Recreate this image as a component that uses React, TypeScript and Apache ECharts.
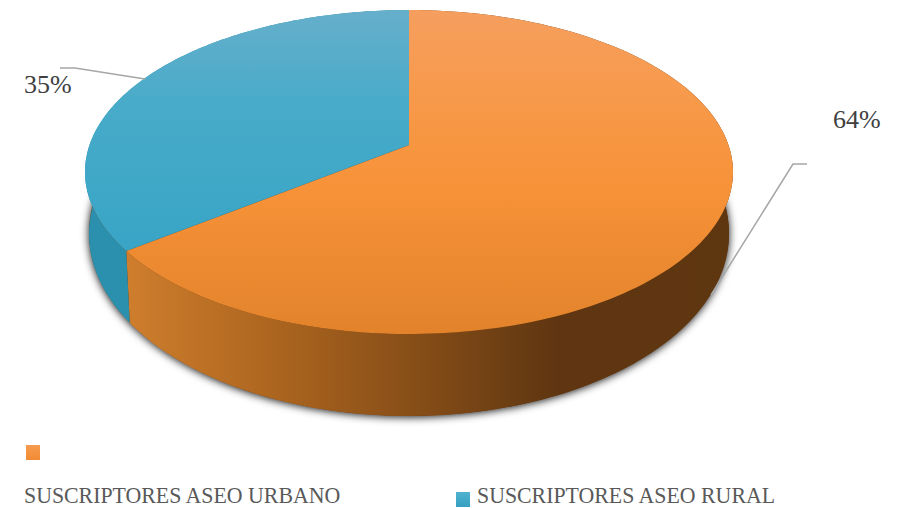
import React, { useEffect, useRef } from "react";
import * as echarts from "echarts";

const categories = ["SUSCRIPTORES ASEO URBANO", "SUSCRIPTORES ASEO RURAL"];
const values = [64, 35];
const percentLabels = ["64%", "35%"];

const CX = 409;
const TOP = { cy: 172, rx: 324, ry: 162 };
const BOTTOM = { cy: 234, rx: 320, ry: 182 };
const APEX_Y = 145;
const PERSPECTIVE = Math.sqrt((1 - 27 / 162) / (1 + 27 / 162));

const topFill = [
  [[0, "#F59E5E"], [0.25, "#F79A4C"], [0.55, "#F79238"], [1, "#E2832B"]],
  [[0, "#66AFCB"], [0.3, "#47ABC9"], [0.7, "#3AA5C6"], [1, "#349EBF"]],
];
const sideFill = [
  [[0, "#CF7E2D"], [0.25, "#AC651F"], [0.5, "#844C17"], [0.72, "#5F3611"], [1, "#5E3610"]],
  [[0, "#2B8FAE"], [1, "#2A8EAC"]],
];

const total = values.reduce((a, b) => a + b, 0);

// Plane angle of the pie -> parameter on the perspective-projected ellipse.
function project(frac: number) {
  const a = frac * 2 * Math.PI;
  if (frac <= 0) return 0;
  if (frac >= 1) return 2 * Math.PI;
  let t = 2 * Math.atan(PERSPECTIVE * Math.tan(a / 2));
  if (t < 0) t += 2 * Math.PI;
  return t;
}
const pt = (e: { cy: number; rx: number; ry: number }, t: number) => [
  CX + e.rx * Math.sin(t),
  e.cy - e.ry * Math.cos(t),
];
function arc(e: any, t0: number, t1: number) {
  const n = 160;
  const out: number[][] = [];
  for (let i = 0; i <= n; i++) out.push(pt(e, t0 + ((t1 - t0) * i) / n));
  return out;
}
function range(i: number) {
  let s = 0;
  for (let k = 0; k < i; k++) s += values[k];
  return [project(s / total), project((s + values[i]) / total)];
}
const grad = (stops: any[], x0: number, y0: number, x1: number, y1: number) =>
  new echarts.graphic.LinearGradient(
    x0, y0, x1, y1,
    stops.map((s) => ({ offset: s[0], color: s[1] })),
    true
  );

function renderSide(params: any) {
  const i = params.dataIndex;
  const [t0, t1] = range(i);
  const upper = arc(TOP, t0, t1);
  const lower = arc(BOTTOM, t0, t1).reverse();
  return {
    type: "polygon",
    shape: { points: upper.concat(lower) },
    style: { fill: grad(sideFill[i], 125, 0, 725, 0) },
  };
}
function renderTop(params: any) {
  const i = params.dataIndex;
  const [t0, t1] = range(i);
  return {
    type: "polygon",
    shape: { points: [[CX, APEX_Y], ...arc(TOP, t0, t1)] },
    style: { fill: grad(topFill[i], 0, 10, 0, 334) },
  };
}

const labelFont = '26px "Liberation Serif", serif';
const legendFont = '24px "Liberation Serif", serif';

export default function App() {
  const ref = useRef<HTMLDivElement>(null);
  useEffect(() => {
    document.body.style.margin = "0";
    const chart = echarts.init(ref.current!, undefined, { renderer: "svg" });
    chart.setOption({
      animation: false,
      backgroundColor: "#ffffff",
      series: [
        {
          type: "custom",
          coordinateSystem: "none",
          silent: true,
          z: 1,
          data: [0],
          renderItem: () => ({
            type: "ellipse",
            shape: { cx: CX, cy: BOTTOM.cy - 1, rx: BOTTOM.rx, ry: BOTTOM.ry + 1 },
            style: {
              fill: "#5E3610",
              shadowColor: "rgba(0,0,0,0.95)",
              shadowBlur: 9,
              shadowOffsetX: 0,
              shadowOffsetY: 1,
            },
          }),
        },
        { type: "custom", coordinateSystem: "none", silent: true, z: 2, data: values, renderItem: renderSide },
        { type: "custom", coordinateSystem: "none", silent: true, z: 3, data: values, renderItem: renderTop },
      ],
      graphic: [
        { type: "polyline", z: 5, shape: { points: [[711, 295], [793, 164], [807, 164]] }, style: { stroke: "#A6A6A6", lineWidth: 1.5, fill: "none" } },
        { type: "polyline", z: 5, shape: { points: [[145, 79], [75, 68], [60, 68]] }, style: { stroke: "#A6A6A6", lineWidth: 1.5, fill: "none" } },
        { type: "text", z: 5, x: 833, y: 119, style: { text: percentLabels[0], font: labelFont, fill: "#404040", verticalAlign: "middle" } },
        { type: "text", z: 5, x: 24, y: 84, style: { text: percentLabels[1], font: labelFont, fill: "#404040", verticalAlign: "middle" } },
        { type: "rect", shape: { x: 26, y: 445, width: 14, height: 15 }, style: { fill: grad([[0, "#F79B50"], [1, "#F18B33"]], 0, 445, 0, 460) } },
        { type: "rect", shape: { x: 456, y: 492, width: 14, height: 15 }, style: { fill: grad([[0, "#4FB3CF"], [1, "#37A0C2"]], 0, 492, 0, 507) } },
        { type: "text", x: 24, y: 495, scaleX: 0.91, style: { text: categories[0], font: legendFont, fill: "#595959", verticalAlign: "middle" } },
        { type: "text", x: 477, y: 495, scaleX: 0.91, style: { text: categories[1], font: legendFont, fill: "#595959", verticalAlign: "middle" } },
      ],
    });
    return () => chart.dispose();
  }, []);
  return <div ref={ref} style={{ width: 902, height: 508 }} />;
}
